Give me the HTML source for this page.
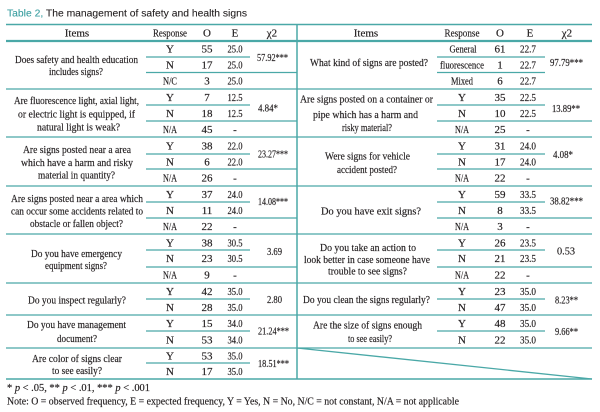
<!DOCTYPE html>
<html><head><meta charset="utf-8"><style>
html,body{margin:0;padding:0;background:#fff;}
svg{display:block;}
text{font-family:"Liberation Serif",serif;font-size:11px;fill:#231f20;stroke:#231f20;stroke-width:0.18px;}
.c{text-anchor:middle;}
.s{font-family:"Liberation Sans",sans-serif;font-size:10px;stroke-width:0.1px;}
</style></head><body>
<svg width="600" height="412" viewBox="0 0 600 412" xmlns="http://www.w3.org/2000/svg">
<rect width="600" height="412" fill="#fff"/>
<text class="s" x="7" y="16.7" textLength="240" lengthAdjust="spacingAndGlyphs"><tspan fill="#3a9ea0" stroke="#3a9ea0">Table 2,</tspan> The management of safety and health signs</text>
<g stroke="#4aa8a7" fill="none">
<line x1="6" y1="24.5" x2="592" y2="24.5" stroke-width="1.5"/>
<line x1="6" y1="41" x2="592" y2="41" stroke-width="2.2"/>
<line x1="297" y1="24" x2="297" y2="379" stroke-width="1.5"/>
<g stroke-width="1.3">
<line x1="146" y1="57" x2="250" y2="57"/><line x1="146" y1="105" x2="250" y2="105"/><line x1="146" y1="154" x2="250" y2="154"/><line x1="146" y1="202" x2="250" y2="202"/><line x1="146" y1="250" x2="250" y2="250"/><line x1="146" y1="299" x2="250" y2="299"/><line x1="146" y1="331" x2="250" y2="331"/><line x1="146" y1="363" x2="250" y2="363"/>
<line x1="146" y1="72.5" x2="297" y2="72.5"/><line x1="146" y1="121" x2="297" y2="121"/><line x1="146" y1="169" x2="297" y2="169"/><line x1="146" y1="218" x2="297" y2="218"/><line x1="146" y1="267" x2="297" y2="267"/>
<line x1="6" y1="89" x2="297" y2="89"/><line x1="6" y1="137" x2="297" y2="137"/><line x1="6" y1="186" x2="297" y2="186"/><line x1="6" y1="234" x2="297" y2="234"/><line x1="6" y1="283" x2="297" y2="283"/><line x1="6" y1="315" x2="297" y2="315"/><line x1="6" y1="348" x2="297" y2="348"/>
<line x1="437" y1="57" x2="545" y2="57"/><line x1="437" y1="72.5" x2="545" y2="72.5"/><line x1="437" y1="105" x2="545" y2="105"/><line x1="437" y1="154" x2="545" y2="154"/><line x1="437" y1="202" x2="545" y2="202"/><line x1="437" y1="250" x2="545" y2="250"/><line x1="437" y1="299" x2="545" y2="299"/><line x1="437" y1="331" x2="545" y2="331"/>
<line x1="437" y1="121" x2="592" y2="121"/><line x1="437" y1="169" x2="592" y2="169"/><line x1="437" y1="218" x2="592" y2="218"/><line x1="437" y1="267" x2="592" y2="267"/>
<line x1="297" y1="89" x2="592" y2="89"/><line x1="297" y1="137" x2="592" y2="137"/><line x1="297" y1="186" x2="592" y2="186"/><line x1="297" y1="234" x2="592" y2="234"/><line x1="297" y1="283" x2="592" y2="283"/><line x1="297" y1="315" x2="592" y2="315"/><line x1="297" y1="348" x2="592" y2="348"/>
<line x1="297" y1="348" x2="592" y2="379"/>
</g>
<line x1="6" y1="379" x2="592" y2="379" stroke-width="1.6"/>
</g>

<!-- headers -->
<text class="c" x="77" y="36.5">Items</text>
<text class="c" x="170" y="36.5" textLength="34" lengthAdjust="spacingAndGlyphs">Response</text>
<text class="c" x="207" y="36.5">O</text>
<text class="c" x="235" y="36.5">E</text>
<text class="c" x="272" y="36.5">χ2</text>
<text class="c" x="366" y="36.5">Items</text>
<text class="c" x="462" y="36.5" textLength="35" lengthAdjust="spacingAndGlyphs">Response</text>
<text class="c" x="500" y="36.5">O</text>
<text class="c" x="530" y="36.5">E</text>
<text class="c" x="567" y="36.5">χ2</text>

<!-- left items -->
<text x="15" y="63" textLength="123" lengthAdjust="spacingAndGlyphs">Does safety and health education</text>
<text x="49" y="75.2" textLength="54" lengthAdjust="spacingAndGlyphs">includes signs?</text>
<text x="14" y="104" textLength="125" lengthAdjust="spacingAndGlyphs">Are fluorescence light, axial light,</text>
<text x="18" y="117.5" textLength="117" lengthAdjust="spacingAndGlyphs">or electric light is equipped, if</text>
<text x="37" y="130.5" textLength="83" lengthAdjust="spacingAndGlyphs">natural light is weak?</text>
<text x="23" y="152.8" textLength="108" lengthAdjust="spacingAndGlyphs">Are signs posted near a area</text>
<text x="21" y="166.2" textLength="112" lengthAdjust="spacingAndGlyphs">which have a harm and risky</text>
<text x="38" y="178.5" textLength="77" lengthAdjust="spacingAndGlyphs">material in quantity?</text>
<text x="11" y="201.8" textLength="132" lengthAdjust="spacingAndGlyphs">Are signs posted near a area which</text>
<text x="11" y="214.5" textLength="132" lengthAdjust="spacingAndGlyphs">can occur some accidents related to</text>
<text x="30" y="226.8" textLength="93" lengthAdjust="spacingAndGlyphs">obstacle or fallen object?</text>
<text x="31" y="256.8" textLength="91" lengthAdjust="spacingAndGlyphs">Do you have emergency</text>
<text x="45" y="269" textLength="62" lengthAdjust="spacingAndGlyphs">equipment signs?</text>
<text x="28" y="303.5" textLength="98" lengthAdjust="spacingAndGlyphs">Do you inspect regularly?</text>
<text x="27" y="327.8" textLength="99" lengthAdjust="spacingAndGlyphs">Do you have management</text>
<text x="57" y="341.8" textLength="40" lengthAdjust="spacingAndGlyphs">document?</text>
<text x="32" y="361.8" textLength="90" lengthAdjust="spacingAndGlyphs">Are color of signs clear</text>
<text x="52" y="374.2" textLength="50" lengthAdjust="spacingAndGlyphs">to see easily?</text>

<!-- right items -->
<text x="310" y="66.2" textLength="118" lengthAdjust="spacingAndGlyphs">What kind of signs are posted?</text>
<text x="300" y="102.5" textLength="133" lengthAdjust="spacingAndGlyphs">Are signs posted on a container or</text>
<text x="313" y="117.8" textLength="105" lengthAdjust="spacingAndGlyphs">pipe which has a harm and</text>
<text x="342" y="131.2" textLength="50" lengthAdjust="spacingAndGlyphs">risky material?</text>
<text x="325" y="159.5" textLength="85" lengthAdjust="spacingAndGlyphs">Were signs for vehicle</text>
<text x="337" y="172.8" textLength="60" lengthAdjust="spacingAndGlyphs">accident posted?</text>
<text x="321" y="214.5" textLength="100" lengthAdjust="spacingAndGlyphs">Do you have exit signs?</text>
<text x="320" y="251.2" textLength="96" lengthAdjust="spacingAndGlyphs">Do you take an action to</text>
<text x="304" y="262.8" textLength="126" lengthAdjust="spacingAndGlyphs">look better in case someone have</text>
<text x="328" y="274.5" textLength="79" lengthAdjust="spacingAndGlyphs">trouble to see signs?</text>
<text x="303" y="302.8" textLength="127" lengthAdjust="spacingAndGlyphs">Do you clean the signs regularly?</text>
<text x="313" y="328.5" textLength="109" lengthAdjust="spacingAndGlyphs">Are the size of signs enough</text>
<text x="348" y="341.8" textLength="44" lengthAdjust="spacingAndGlyphs">to see easily?</text>

<!-- left rows -->
<text class="c" x="170" y="52.5">Y</text><text class="c" x="207" y="52.5">55</text><text class="c" x="235" y="52.5" textLength="15" lengthAdjust="spacingAndGlyphs">25.0</text>
<text class="c" x="170" y="68.5">N</text><text class="c" x="207" y="68.5">17</text><text class="c" x="235" y="68.5" textLength="15" lengthAdjust="spacingAndGlyphs">25.0</text>
<text class="c" x="170" y="84.5" textLength="14" lengthAdjust="spacingAndGlyphs">N/C</text><text class="c" x="207" y="84.5">3</text><text class="c" x="235" y="84.5" textLength="15" lengthAdjust="spacingAndGlyphs">25.0</text>

<text class="c" x="170" y="100.8">Y</text><text class="c" x="207" y="100.8">7</text><text class="c" x="235" y="100.8" textLength="15" lengthAdjust="spacingAndGlyphs">12.5</text>
<text class="c" x="170" y="117">N</text><text class="c" x="207" y="117">18</text><text class="c" x="235" y="117" textLength="15" lengthAdjust="spacingAndGlyphs">12.5</text>
<text class="c" x="170" y="133" textLength="14" lengthAdjust="spacingAndGlyphs">N/A</text><text class="c" x="207" y="133">45</text><text class="c" x="235" y="133">-</text>

<text class="c" x="170" y="149.3">Y</text><text class="c" x="207" y="149.3">38</text><text class="c" x="235" y="149.3" textLength="15" lengthAdjust="spacingAndGlyphs">22.0</text>
<text class="c" x="170" y="165.5">N</text><text class="c" x="207" y="165.5">6</text><text class="c" x="235" y="165.5" textLength="15" lengthAdjust="spacingAndGlyphs">22.0</text>
<text class="c" x="170" y="181.5" textLength="14" lengthAdjust="spacingAndGlyphs">N/A</text><text class="c" x="207" y="181.5">26</text><text class="c" x="235" y="181.5">-</text>

<text class="c" x="170" y="198">Y</text><text class="c" x="207" y="198">37</text><text class="c" x="235" y="198" textLength="15" lengthAdjust="spacingAndGlyphs">24.0</text>
<text class="c" x="170" y="214">N</text><text class="c" x="207" y="214">11</text><text class="c" x="235" y="214" textLength="15" lengthAdjust="spacingAndGlyphs">24.0</text>
<text class="c" x="170" y="230" textLength="14" lengthAdjust="spacingAndGlyphs">N/A</text><text class="c" x="207" y="230">22</text><text class="c" x="235" y="230">-</text>

<text class="c" x="170" y="246.3">Y</text><text class="c" x="207" y="246.3">38</text><text class="c" x="235" y="246.3" textLength="15" lengthAdjust="spacingAndGlyphs">30.5</text>
<text class="c" x="170" y="262">N</text><text class="c" x="207" y="262">23</text><text class="c" x="235" y="262" textLength="15" lengthAdjust="spacingAndGlyphs">30.5</text>
<text class="c" x="170" y="278.5" textLength="14" lengthAdjust="spacingAndGlyphs">N/A</text><text class="c" x="207" y="278.5">9</text><text class="c" x="235" y="278.5">-</text>

<text class="c" x="170" y="295">Y</text><text class="c" x="207" y="295">42</text><text class="c" x="235" y="295" textLength="15" lengthAdjust="spacingAndGlyphs">35.0</text>
<text class="c" x="170" y="311">N</text><text class="c" x="207" y="311">28</text><text class="c" x="235" y="311" textLength="15" lengthAdjust="spacingAndGlyphs">35.0</text>

<text class="c" x="170" y="326.8">Y</text><text class="c" x="207" y="326.8">15</text><text class="c" x="235" y="326.8" textLength="15" lengthAdjust="spacingAndGlyphs">34.0</text>
<text class="c" x="170" y="343.5">N</text><text class="c" x="207" y="343.5">53</text><text class="c" x="235" y="343.5" textLength="15" lengthAdjust="spacingAndGlyphs">34.0</text>

<text class="c" x="170" y="359.5">Y</text><text class="c" x="207" y="359.5">53</text><text class="c" x="235" y="359.5" textLength="15" lengthAdjust="spacingAndGlyphs">35.0</text>
<text class="c" x="170" y="375">N</text><text class="c" x="207" y="375">17</text><text class="c" x="235" y="375" textLength="15" lengthAdjust="spacingAndGlyphs">35.0</text>

<!-- right rows -->
<text class="c" x="463" y="52.5" textLength="27" lengthAdjust="spacingAndGlyphs">General</text><text class="c" x="500" y="52.5">61</text><text class="c" x="528" y="52.5" textLength="16" lengthAdjust="spacingAndGlyphs">22.7</text>
<text class="c" x="462" y="68.5" textLength="44" lengthAdjust="spacingAndGlyphs">fluorescence</text><text class="c" x="500" y="68.5">1</text><text class="c" x="528" y="68.5" textLength="16" lengthAdjust="spacingAndGlyphs">22.7</text>
<text class="c" x="462" y="84.5" textLength="22" lengthAdjust="spacingAndGlyphs">Mixed</text><text class="c" x="500" y="84.5">6</text><text class="c" x="528" y="84.5" textLength="16" lengthAdjust="spacingAndGlyphs">22.7</text>

<text class="c" x="462" y="100.8">Y</text><text class="c" x="500" y="100.8">35</text><text class="c" x="528" y="100.8" textLength="16" lengthAdjust="spacingAndGlyphs">22.5</text>
<text class="c" x="462" y="117">N</text><text class="c" x="500" y="117">10</text><text class="c" x="528" y="117" textLength="16" lengthAdjust="spacingAndGlyphs">22.5</text>
<text class="c" x="462" y="133" textLength="14" lengthAdjust="spacingAndGlyphs">N/A</text><text class="c" x="500" y="133">25</text><text class="c" x="528" y="133">-</text>

<text class="c" x="462" y="149.3">Y</text><text class="c" x="500" y="149.3">31</text><text class="c" x="528" y="149.3" textLength="16" lengthAdjust="spacingAndGlyphs">24.0</text>
<text class="c" x="462" y="165.5">N</text><text class="c" x="500" y="165.5">17</text><text class="c" x="528" y="165.5" textLength="16" lengthAdjust="spacingAndGlyphs">24.0</text>
<text class="c" x="462" y="181.5" textLength="14" lengthAdjust="spacingAndGlyphs">N/A</text><text class="c" x="500" y="181.5">22</text><text class="c" x="528" y="181.5">-</text>

<text class="c" x="462" y="198">Y</text><text class="c" x="500" y="198">59</text><text class="c" x="528" y="198" textLength="16" lengthAdjust="spacingAndGlyphs">33.5</text>
<text class="c" x="462" y="214">N</text><text class="c" x="500" y="214">8</text><text class="c" x="528" y="214" textLength="16" lengthAdjust="spacingAndGlyphs">33.5</text>
<text class="c" x="462" y="230" textLength="14" lengthAdjust="spacingAndGlyphs">N/A</text><text class="c" x="500" y="230">3</text><text class="c" x="528" y="230">-</text>

<text class="c" x="462" y="246.3">Y</text><text class="c" x="500" y="246.3">26</text><text class="c" x="528" y="246.3" textLength="16" lengthAdjust="spacingAndGlyphs">23.5</text>
<text class="c" x="462" y="262">N</text><text class="c" x="500" y="262">21</text><text class="c" x="528" y="262" textLength="16" lengthAdjust="spacingAndGlyphs">23.5</text>
<text class="c" x="462" y="278.5" textLength="14" lengthAdjust="spacingAndGlyphs">N/A</text><text class="c" x="500" y="278.5">22</text><text class="c" x="528" y="278.5">-</text>

<text class="c" x="462" y="295">Y</text><text class="c" x="500" y="295">23</text><text class="c" x="528" y="295" textLength="16" lengthAdjust="spacingAndGlyphs">35.0</text>
<text class="c" x="462" y="311">N</text><text class="c" x="500" y="311">47</text><text class="c" x="528" y="311" textLength="16" lengthAdjust="spacingAndGlyphs">35.0</text>

<text class="c" x="462" y="326.8">Y</text><text class="c" x="500" y="326.8">48</text><text class="c" x="528" y="326.8" textLength="16" lengthAdjust="spacingAndGlyphs">35.0</text>
<text class="c" x="462" y="343.5">N</text><text class="c" x="500" y="343.5">22</text><text class="c" x="528" y="343.5" textLength="16" lengthAdjust="spacingAndGlyphs">35.0</text>

<!-- chi2 left -->
<text x="257" y="60.8" textLength="31" lengthAdjust="spacingAndGlyphs">57.92***</text>
<text x="258" y="111.5" textLength="20" lengthAdjust="spacingAndGlyphs">4.84*</text>
<text x="258" y="157.5" textLength="30" lengthAdjust="spacingAndGlyphs">23.27***</text>
<text x="258" y="205.2" textLength="30" lengthAdjust="spacingAndGlyphs">14.08***</text>
<text x="267" y="255.2" textLength="15" lengthAdjust="spacingAndGlyphs">3.69</text>
<text x="267" y="302.8" textLength="15" lengthAdjust="spacingAndGlyphs">2.80</text>
<text x="258" y="334.5" textLength="31" lengthAdjust="spacingAndGlyphs">21.24***</text>
<text x="258" y="366.8" textLength="31" lengthAdjust="spacingAndGlyphs">18.51***</text>

<!-- chi2 right -->
<text x="550" y="66.2" textLength="33" lengthAdjust="spacingAndGlyphs">97.79***</text>
<text x="552" y="112.2" textLength="28" lengthAdjust="spacingAndGlyphs">13.89**</text>
<text x="553" y="157.8" textLength="20" lengthAdjust="spacingAndGlyphs">4.08*</text>
<text x="550" y="204.5" textLength="33" lengthAdjust="spacingAndGlyphs">38.82***</text>
<text x="557" y="254.5" textLength="18" lengthAdjust="spacingAndGlyphs">0.53</text>
<text x="555" y="303.5" textLength="23" lengthAdjust="spacingAndGlyphs">8.23**</text>
<text x="555" y="335.2" textLength="23" lengthAdjust="spacingAndGlyphs">9.66**</text>

<!-- footnotes -->
<text x="7" y="390.8" textLength="143" lengthAdjust="spacingAndGlyphs">* <tspan font-style="italic">p</tspan> &lt; .05, ** <tspan font-style="italic">p</tspan> &lt; .01, *** <tspan font-style="italic">p</tspan> &lt; .001</text>
<text x="7" y="404.5" textLength="452" lengthAdjust="spacingAndGlyphs">Note: O = observed frequency, E = expected frequency, Y = Yes, N = No, N/C = not constant, N/A = not applicable</text>
</svg>
</body></html>
